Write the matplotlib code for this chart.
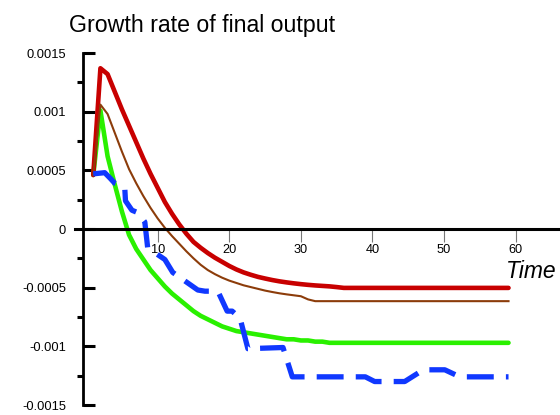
import matplotlib.pyplot as plt
import numpy as np

plt.rcParams['font.family'] = ['Liberation Sans', 'DejaVu Sans']

# periods 1..59
time = np.arange(1, 60)

red_vals = [0.00046, 0.00137, 0.00132, 0.00117, 0.00102, 0.00088, 0.00074, 0.0006,
            0.00047, 0.00035, 0.00023, 0.00013, 0.00004, -0.00004, -0.00011, -0.00016,
            -0.000205, -0.000245, -0.00028, -0.000315, -0.000345, -0.00037, -0.00039,
            -0.000408, -0.000422, -0.000435, -0.000446, -0.000455, -0.000463, -0.00047,
            -0.000476, -0.000481, -0.000485, -0.000489, -0.000495] + [-0.000502] * 24

brown_vals = [0.00046, 0.00106, 0.00098, 0.00082, 0.00066, 0.00051, 0.00039, 0.00028,
              0.00018, 0.00009, 0.00001, -0.00006, -0.000125, -0.00019, -0.00025,
              -0.000305, -0.00035, -0.000385, -0.000415, -0.00044, -0.00046, -0.00048,
              -0.000495, -0.00051, -0.000525, -0.000537, -0.000548, -0.000557, -0.000565,
              -0.000573, -0.0006] + [-0.000615] * 28

green_vals = [0.00046, 0.00101, 0.00062, 0.00038, 0.00015, -0.00005, -0.00017, -0.00026,
              -0.00035, -0.00042, -0.00049, -0.00055, -0.0006, -0.00065, -0.0007, -0.00074,
              -0.00077, -0.0008, -0.00083, -0.00085, -0.00087, -0.00088, -0.00089, -0.0009,
              -0.00091, -0.00092, -0.00093, -0.00094, -0.00094, -0.00095, -0.00095, -0.00096,
              -0.00096] + [-0.00097] * 26

# dashed blue series read at its own break points
blue_t = [1, 2.6, 3.4, 4.0, 4.8, 5.4, 5.5, 6.4, 7.2, 8.2, 8.6, 11.0, 12.1, 15.6, 16.6,
          18.4, 19.7, 20.4, 21.5, 22.6, 27.5, 28.8, 39.0, 40.3, 44.5, 47.1, 50.1, 52.2, 59]
blue_vals = [0.00047, 0.00048, 0.00043, 0.00039, 0.00037, 0.00035, 0.00024, 0.00016,
             0.00014, 0.00006, -0.00016, -0.00026, -0.00037, -0.00052, -0.00053, -0.00053,
             -0.0007, -0.0007, -0.00076, -0.00102, -0.00101, -0.00126, -0.00126, -0.0013,
             -0.0013, -0.0012, -0.0012, -0.00126, -0.00126]

y_ticks = [-0.0015, -0.001, -0.0005, 0, 0.0005, 0.001, 0.0015]
y_labels = ['-0.0015', '-0.001', '-0.0005', '0', '0.0005', '0.001', '0.0015']
y_minor = [-0.00125, -0.00075, -0.00025, 0.00025, 0.00075, 0.00125]
x_ticks = [10, 20, 30, 40, 50, 60]

fig = plt.figure(figsize=(5.6, 4.15), dpi=100)
ax = fig.add_axes([83 / 560, 10 / 415, 477 / 560, 352 / 415])

ax.plot(time, green_vals, color='#2af000', lw=3.3, solid_capstyle='round', zorder=2)
ax.plot(time, red_vals, color='#c80000', lw=3.3, solid_capstyle='round', zorder=2)
ax.plot(time, brown_vals, color='#8c3c0a', lw=1.5, zorder=2)
ax.plot(blue_t, blue_vals, color='#1038ff', lw=3.8, linestyle=(0, (5.1, 2.3)), zorder=2)

ax.set_xlim(-0.433, 66.19)
ax.set_ylim(-0.0015, 0.0015)

for s in ['top', 'right']:
    ax.spines[s].set_visible(False)
ax.spines['bottom'].set_position(('data', 0))
ax.spines['bottom'].set_visible(False)
ax.spines['left'].set_linewidth(2)
ax.axhline(0, xmin=-0.0168, xmax=1, color='black', lw=2.2, clip_on=False, zorder=3)

ax.set_xticks(x_ticks)
ax.set_xticklabels([str(v) for v in x_ticks])
ax.tick_params(axis='x', direction='out', length=9.4, width=0.8, color='#777777',
               pad=1.5, labelsize=9.2)

ax.set_yticks(y_ticks)
ax.set_yticklabels(y_labels)
ax.set_yticks(y_minor, minor=True)
ax.tick_params(axis='y', which='major', direction='in', length=8.6, width=2.2,
               pad=12.2, labelsize=9.3)
ax.tick_params(axis='y', which='minor', direction='out', length=4.3, width=2.2)

fig.text(69 / 560, 1 - 31.7 / 415, 'Growth rate of final output', fontsize=16.7,
         ha='left', va='baseline')
fig.text(506 / 560, 1 - 278.5 / 415, 'Time', fontsize=16.5, style='italic',
         ha='left', va='baseline')

fig.savefig('out.png', dpi=100)
